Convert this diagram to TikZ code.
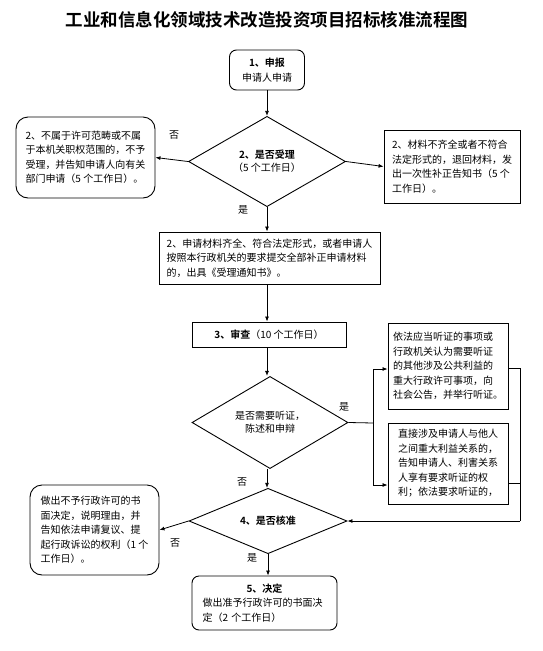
\documentclass[tikz,border=0pt]{standalone}
\usepackage{fontspec}
\setmainfont{Noto Sans CJK SC}[BoldFont={Noto Sans CJK SC Bold}]
\usetikzlibrary{shapes.geometric,arrows.meta}
\begin{document}
\begin{tikzpicture}[x=1pt,y=-1pt,
        box/.style = {draw, black, line width=0.9pt, inner sep=0pt, align=left, font=\fontsize{10}{14.5}\selectfont},
        rbox/.style = {box, rounded corners=7pt},
        choice/.style = {draw, black, line width=0.9pt, diamond, inner sep=0pt, align=center, font=\fontsize{10}{13}\selectfont},
        lab/.style = {font=\fontsize{10}{12}\selectfont},
        flow/.style = {black, line width=0.8pt, -{Latex[length=5pt,width=4pt]}}]
    \path[use as bounding box] (0,0) rectangle (543,651);
    \node[font=\bfseries\fontsize{17.5}{20}\selectfont] (title) at (267,20) {工业和信息化领域技术改造投资项目招标核准流程图};

    \node[rbox, align=center, minimum width=75pt, minimum height=40pt] (apply) at (267,70) {\textbf{1、申报}\\申请人申请};
    \node[choice, minimum width=157pt, minimum height=61pt] (accept) at (267,161.5) {\textbf{2、是否受理}\\（5 个工作日）};
    \node[box, rounded corners=12pt, minimum width=139pt, minimum height=81pt] (refuse) at (85.5,157.5) {2、不属于许可范畴或不属\\于本机关职权范围的，不予\\受理，并告知申请人向有关\\部门申请（5 个工作日）。};
    \node[box, minimum width=136pt, minimum height=73pt] (back) at (452,166.5) {2、材料不齐全或者不符合\\法定形式的，退回材料，发\\出一次性补正告知书（5 个\\工作日）。};
    \node[box, minimum width=221pt, minimum height=52pt] (notice) at (269.5,258) {2、申请材料齐全、符合法定形式，或者申请人\\按照本行政机关的要求提交全部补正申请材料\\的，出具《受理通知书》。};
    \node[box, minimum width=154pt, minimum height=25pt] (review) at (269,334.5) {\textbf{3、审查}（10 个工作日）};
    \node[choice, minimum width=156pt, minimum height=59pt] (hear) at (270,422.5) {\raisebox{-3pt}{\parbox{70pt}{\centering 是否需要听证，\\陈述和申辩}}};
    \node[box, minimum width=120pt, minimum height=86pt] (public) at (448,366) {依法应当听证的事项或\\行政机关认为需要听证\\的其他涉及公共利益的\\重大行政许可事项，向\\社会公告，并举行听证。};
    \node[box, minimum width=120pt, minimum height=81pt] (party) at (448,463.5) {直接涉及申请人与他人\\之间重大利益关系的，\\告知申请人、利害关系\\人享有要求听证的权\\利；依法要求听证的，};
    \node[choice, minimum width=158pt, minimum height=44pt] (approve) at (268,521) {\textbf{4、是否核准}};
    \node[box, rounded corners=12pt, minimum width=129pt, minimum height=90pt] (deny) at (94.5,530) {做出不予行政许可的书\\面决定，说明理由，并\\告知依法申请复议、提\\起行政诉讼的权利（1 个\\工作日）。};
    \node[rbox, text width=124pt, minimum width=145pt, minimum height=54pt] (grant) at (264.5,603) {\makebox[\linewidth]{\textbf{5、决定}}\\做出准予行政许可的书面决\\定（2 个工作日）};

    \draw[flow] (apply) -- (apply |- accept.north);
    \draw[flow] (accept.west) -- (refuse.east);
    \draw[flow] (accept.east) -- (back.west);
    \draw[flow] (accept.south) -- (accept.south |- notice.north);
    \draw[flow] (notice.south -| accept.south) -- (accept.south |- review.north);
    \draw[flow] (review.south -| accept.south) -- (accept.south |- hear.north);
    \coordinate (split) at (373,423);
    \draw[black, line width=0.8pt] (hear.east) -- (split);
    \draw[flow] (split) |- ([yshift=-3pt]public.west);
    \draw[flow] (split) |- ([yshift=-21.5pt]party.west);
    \coordinate (join) at (520,521);
    \draw[black, line width=0.8pt] ([yshift=-2pt]public.east) -| (join);
    \draw[black, line width=0.8pt] ([yshift=-19.5pt]party.east) -- ([yshift=-19.5pt]party.east -| join);
    \draw[flow] (join) -- (approve.east);
    \draw[flow] (accept.south |- hear.south) -- (accept.south |- approve.north);
    \draw[flow] (approve.west) -- (deny.east);
    \draw[flow] (approve.south) -- (approve.south |- grant.north);

    \node[lab] (no1) at (174,135) {否};
    \node[lab] (yes1) at (243,210) {是};
    \node[lab] (yes2) at (344,407) {是};
    \node[lab] (no2) at (242,482) {否};
    \node[lab] (no3) at (175,543) {否};
    \node[lab] (yes3) at (252,558) {是};
\end{tikzpicture}
\end{document}
